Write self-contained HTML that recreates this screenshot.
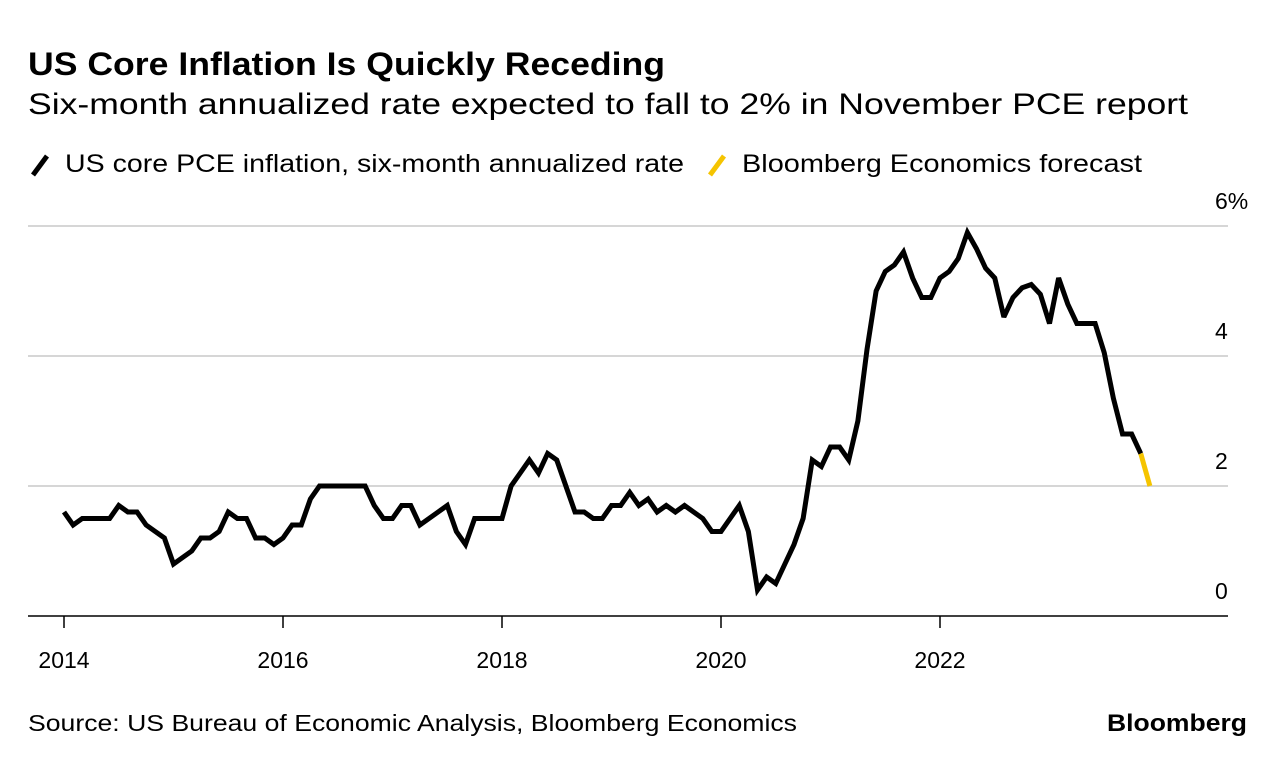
<!DOCTYPE html>
<html><head><meta charset="utf-8"><style>
html,body{margin:0;padding:0;background:#fff;}
svg{display:block;font-family:"Liberation Sans",Arial,sans-serif;}
</style></head><body>
<svg id="chart" width="1285" height="764" viewBox="0 0 1285 764">
<text x="28" y="75" font-size="32" font-weight="bold" textLength="637" lengthAdjust="spacingAndGlyphs" fill="#000">US Core Inflation Is Quickly Receding</text>
<text x="28" y="114" font-size="30" textLength="1160" lengthAdjust="spacingAndGlyphs" fill="#000">Six-month annualized rate expected to fall to 2% in November PCE report</text>
<g>
<line x1="33" y1="175" x2="47" y2="156" stroke="#000" stroke-width="5"/>
<text x="65" y="172" font-size="25" textLength="619" lengthAdjust="spacingAndGlyphs">US core PCE inflation, six-month annualized rate</text>
<line x1="710" y1="175" x2="724" y2="156" stroke="#f5c400" stroke-width="5"/>
<text x="742" y="172" font-size="25" textLength="400" lengthAdjust="spacingAndGlyphs">Bloomberg Economics forecast</text>
</g>
<g id="grid"></g>
<g id="xaxis"></g>
<g id="series"></g>
<text x="28" y="731" font-size="23" textLength="769" lengthAdjust="spacingAndGlyphs">Source: US Bureau of Economic Analysis, Bloomberg Economics</text>
<text x="1107" y="731" font-size="24" font-weight="bold" textLength="140" lengthAdjust="spacingAndGlyphs">Bloomberg</text>
</svg>
<script>
const yTicks = [0, 2, 4, 6];
const yTickLabels = ["0", "2", "4", "6%"];
const xTickYears = [2014, 2016, 2018, 2020, 2022];
const startYear = 2014;
const actualValues = [
1.6,1.4,1.5,1.5,1.5,1.5,1.7,1.6,1.6,1.4,1.3,1.2,
0.8,0.9,1.0,1.2,1.2,1.3,1.6,1.5,1.5,1.2,1.2,1.1,
1.2,1.4,1.4,1.8,2.0,2.0,2.0,2.0,2.0,2.0,1.7,1.5,
1.5,1.7,1.7,1.4,1.5,1.6,1.7,1.3,1.1,1.5,1.5,1.5,
1.5,2.0,2.2,2.4,2.2,2.5,2.4,2.0,1.6,1.6,1.5,1.5,
1.7,1.7,1.9,1.7,1.8,1.6,1.7,1.6,1.7,1.6,1.5,1.3,
1.3,1.5,1.7,1.3,0.4,0.6,0.5,0.8,1.1,1.5,2.4,2.3,
2.6,2.6,2.4,3.0,4.1,5.0,5.3,5.4,5.6,5.2,4.9,4.9,
5.2,5.3,5.5,5.9,5.65,5.35,5.2,4.6,4.9,5.05,5.1,4.95,
4.5,5.2,4.8,4.5,4.5,4.5,4.05,3.35,2.8,2.8,2.5
];
const forecastValues = [2.5, 2.0];
const forecastStartIndex = 118;

const NS = "http://www.w3.org/2000/svg";
const X0 = 64, PX_PER_YEAR = 109.5, Y0 = 616, PX_PER_UNIT = 65;
function xScale(monthIndex){ return X0 + monthIndex * PX_PER_YEAR / 12; }
function xYear(year){ return X0 + (year - startYear) * PX_PER_YEAR; }
function yScale(v){ return Y0 - v * PX_PER_UNIT; }
function mk(tag, attrs, parent){ const e = document.createElementNS(NS, tag); for (const k in attrs) e.setAttribute(k, attrs[k]); parent.appendChild(e); return e; }

const grid = document.getElementById('grid');
yTicks.forEach((t, i) => {
  const y = yScale(t);
  const ln = mk('line', {x1: 28, x2: 1228, y1: y, y2: y, stroke: t === 0 ? '#000' : '#d6d6d6', 'stroke-width': t === 0 ? 1.5 : 2}, grid);
  
  
  const tx = mk('text', {x: 1215, y: y - 17, 'font-size': 23, fill: '#000'}, grid);
  tx.textContent = yTickLabels[i];
  
  
});
const xa = document.getElementById('xaxis');
xTickYears.forEach(yr => {
  const x = xYear(yr);
  const tk = mk('line', {x1: x, x2: x, y1: Y0, y2: 628, stroke: '#000', 'stroke-width': 1.5}, xa);
  
  
  const tx = mk('text', {x: x, y: 668, 'font-size': 23, 'text-anchor': 'middle'}, xa);
  tx.textContent = String(yr);
  
  
});
const s = document.getElementById('series');
const fp = forecastValues.map((v, i) => xScale(forecastStartIndex + i) + ',' + yScale(v)).join(' ');
const fl = mk('polyline', {points: fp, fill: 'none', stroke: '#f5c400', 'stroke-width': 5, 'stroke-linejoin': 'miter'}, s);


const ap = actualValues.map((v, i) => xScale(i) + ',' + yScale(v)).join(' ');
const al = mk('polyline', {points: ap, fill: 'none', stroke: '#000', 'stroke-width': 5, 'stroke-linejoin': 'miter', 'stroke-miterlimit': 3}, s);


</script>
</body></html>
